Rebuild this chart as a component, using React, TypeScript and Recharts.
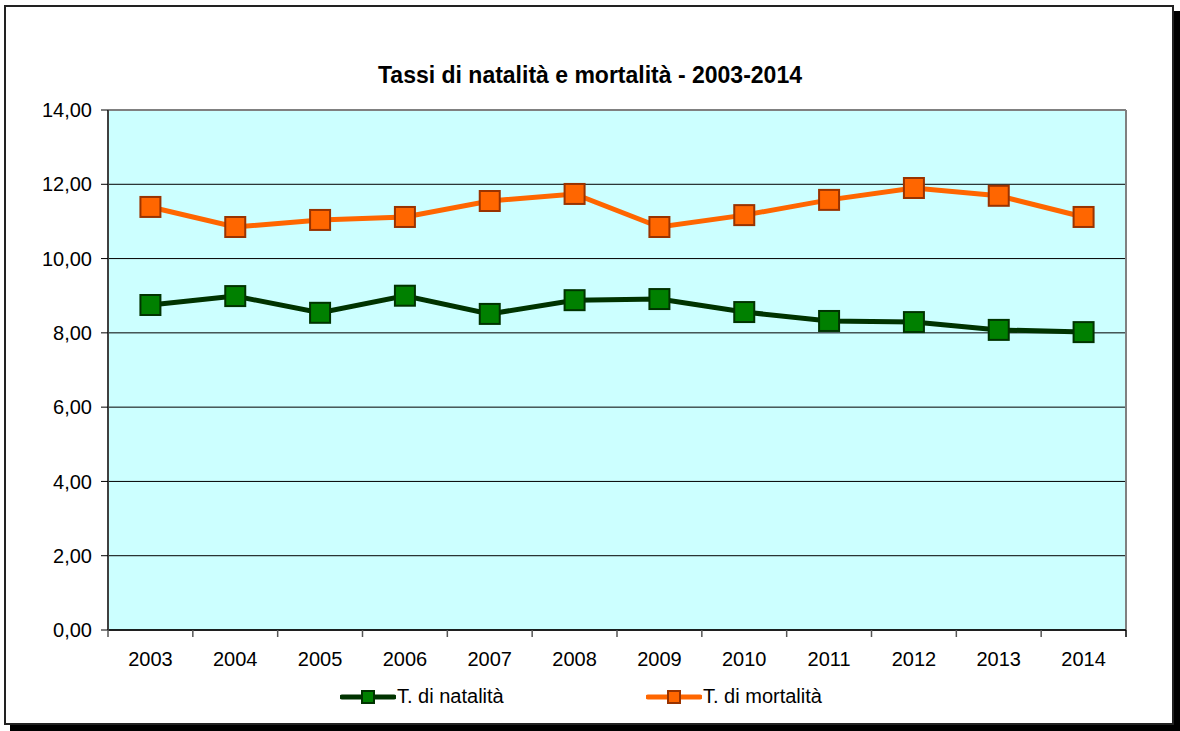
import React from "react";
import {
  LineChart,
  Line,
  XAxis,
  YAxis,
  CartesianGrid,
  Legend,
  ReferenceLine,
} from "recharts";

const years = ["2003", "2004", "2005", "2006", "2007", "2008", "2009", "2010", "2011", "2012", "2013", "2014"];
const natalita = [8.75, 8.99, 8.54, 9.0, 8.51, 8.88, 8.91, 8.56, 8.32, 8.29, 8.08, 8.02];
const mortalita = [11.39, 10.85, 11.04, 11.12, 11.55, 11.74, 10.85, 11.17, 11.58, 11.9, 11.69, 11.12];
const yTicks = [0, 2, 4, 6, 8, 10, 12, 14];

const data = years.map((year, i) => ({
  year,
  natalita: natalita[i],
  mortalita: mortalita[i],
}));

const FONT = "'Liberation Sans', Arial, sans-serif";
const W = 1180;
const H = 731;
const PLOT_LEFT = 108;
const PLOT_RIGHT = 1126;
const STEP = (PLOT_RIGHT - PLOT_LEFT) / years.length;

const fmt = (v: number) => v.toFixed(2).replace(".", ",");

function SquareDot(fill: string, stroke: string) {
  return (props: any) => {
    const { cx, cy, index } = props;
    if (cx == null || cy == null) return <g key={index} />;
    return (
      <rect
        key={index}
        x={cx - 10}
        y={cy - 10}
        width={20}
        height={20}
        fill={fill}
        stroke={stroke}
        strokeWidth={2}
      />
    );
  };
}

function XTick(props: any) {
  const { x, y, payload, index } = props;
  const left = x - STEP / 2;
  return (
    <g>
      <line x1={left} y1={y - 8} x2={left} y2={y - 1} stroke="#555" strokeWidth={1.5} />
      {index === years.length - 1 && (
        <line x1={x + STEP / 2} y1={y - 8} x2={x + STEP / 2} y2={y - 1} stroke="#000" strokeWidth={1.5} />
      )}
      <text x={x} y={y + 28} textAnchor="middle" fontSize={20} fontFamily={FONT} fill="#000">
        {payload.value}
      </text>
    </g>
  );
}

const legendItems = [
  { label: "T. di natalità", line: "#003300", fill: "#008000", stroke: "#003300", left: 340 },
  { label: "T. di mortalità", line: "#FF6600", fill: "#FF6600", stroke: "#993300", left: 646 },
];

function ChartLegend() {
  return (
    <div style={{ position: "relative", width: W, height: 24 }}>
      {legendItems.map((it) => (
        <div
          key={it.label}
          style={{ position: "absolute", left: it.left, top: 0, display: "flex", alignItems: "center" }}
        >
          <svg width={56} height={20}>
            <line x1={2} y1={10} x2={54} y2={10} stroke={it.line} strokeWidth={5} strokeLinecap="round" />
            <rect x={22} y={4} width={12} height={12} fill={it.fill} stroke={it.stroke} strokeWidth={2} />
          </svg>
          <span style={{ fontFamily: FONT, fontSize: 20, color: "#000", marginLeft: 1 }}>{it.label}</span>
        </div>
      ))}
    </div>
  );
}

export default function App() {
  return (
    <div style={{ position: "absolute", left: 0, top: 0, width: W, height: H, background: "#fff" }}>
      <div
        style={{
          position: "absolute",
          left: 4,
          top: 5,
          width: 1170,
          height: 720,
          boxSizing: "border-box",
          border: "2px solid #222",
          boxShadow: "6px 6px 0 #000",
          background: "#fff",
        }}
      />
      <div
        style={{
          position: "absolute",
          left: 0,
          top: 61,
          width: W,
          textAlign: "center",
          fontFamily: FONT,
          fontWeight: "bold",
          fontSize: 23,
          lineHeight: "28px",
          color: "#000",
        }}
      >
        Tassi di natalità e mortalità - 2003-2014
      </div>
      <div style={{ position: "absolute", left: 0, top: 0 }}>
        <LineChart
          width={W}
          height={H}
          data={data}
          margin={{ top: 110, right: W - PLOT_RIGHT, bottom: 61, left: 0 }}
        >
          <CartesianGrid fill="#CCFFFF" vertical={false} stroke="#000" strokeWidth={1} />
          <CartesianGrid
            horizontal={false}
            stroke="#808080"
            strokeWidth={2}
            verticalCoordinatesGenerator={({ offset }: any) => [offset.left + offset.width]}
          />
          <ReferenceLine y={14} stroke="#808080" strokeWidth={2} />
          <XAxis
            dataKey="year"
            height={40}
            padding={{ left: STEP / 2, right: STEP / 2 }}
            axisLine={{ stroke: "#000", strokeWidth: 1.5 }}
            tickLine={false}
            interval={0}
            tick={<XTick />}
          />
          <YAxis
            width={PLOT_LEFT}
            domain={[0, 14]}
            ticks={yTicks}
            tickFormatter={fmt}
            axisLine={{ stroke: "#404040", strokeWidth: 2 }}
            tickLine={{ stroke: "#000", strokeWidth: 1 }}
            tickSize={7}
            tickMargin={9}
            tick={{ fontSize: 20, fontFamily: FONT, fill: "#000" }}
          />
          <Legend
            layout="horizontal"
            verticalAlign="middle"
            align="center"
            wrapperStyle={{ position: "absolute", left: 0, top: 685, width: W }}
            content={() => <ChartLegend />}
          />
          <Line
            type="linear"
            dataKey="natalita"
            name="T. di natalità"
            stroke="#003300"
            strokeWidth={5}
            dot={SquareDot("#008000", "#003300")}
            activeDot={false}
            isAnimationActive={false}
          />
          <Line
            type="linear"
            dataKey="mortalita"
            name="T. di mortalità"
            stroke="#FF6600"
            strokeWidth={5}
            dot={SquareDot("#FF6600", "#993300")}
            activeDot={false}
            isAnimationActive={false}
          />
        </LineChart>
      </div>
    </div>
  );
}
